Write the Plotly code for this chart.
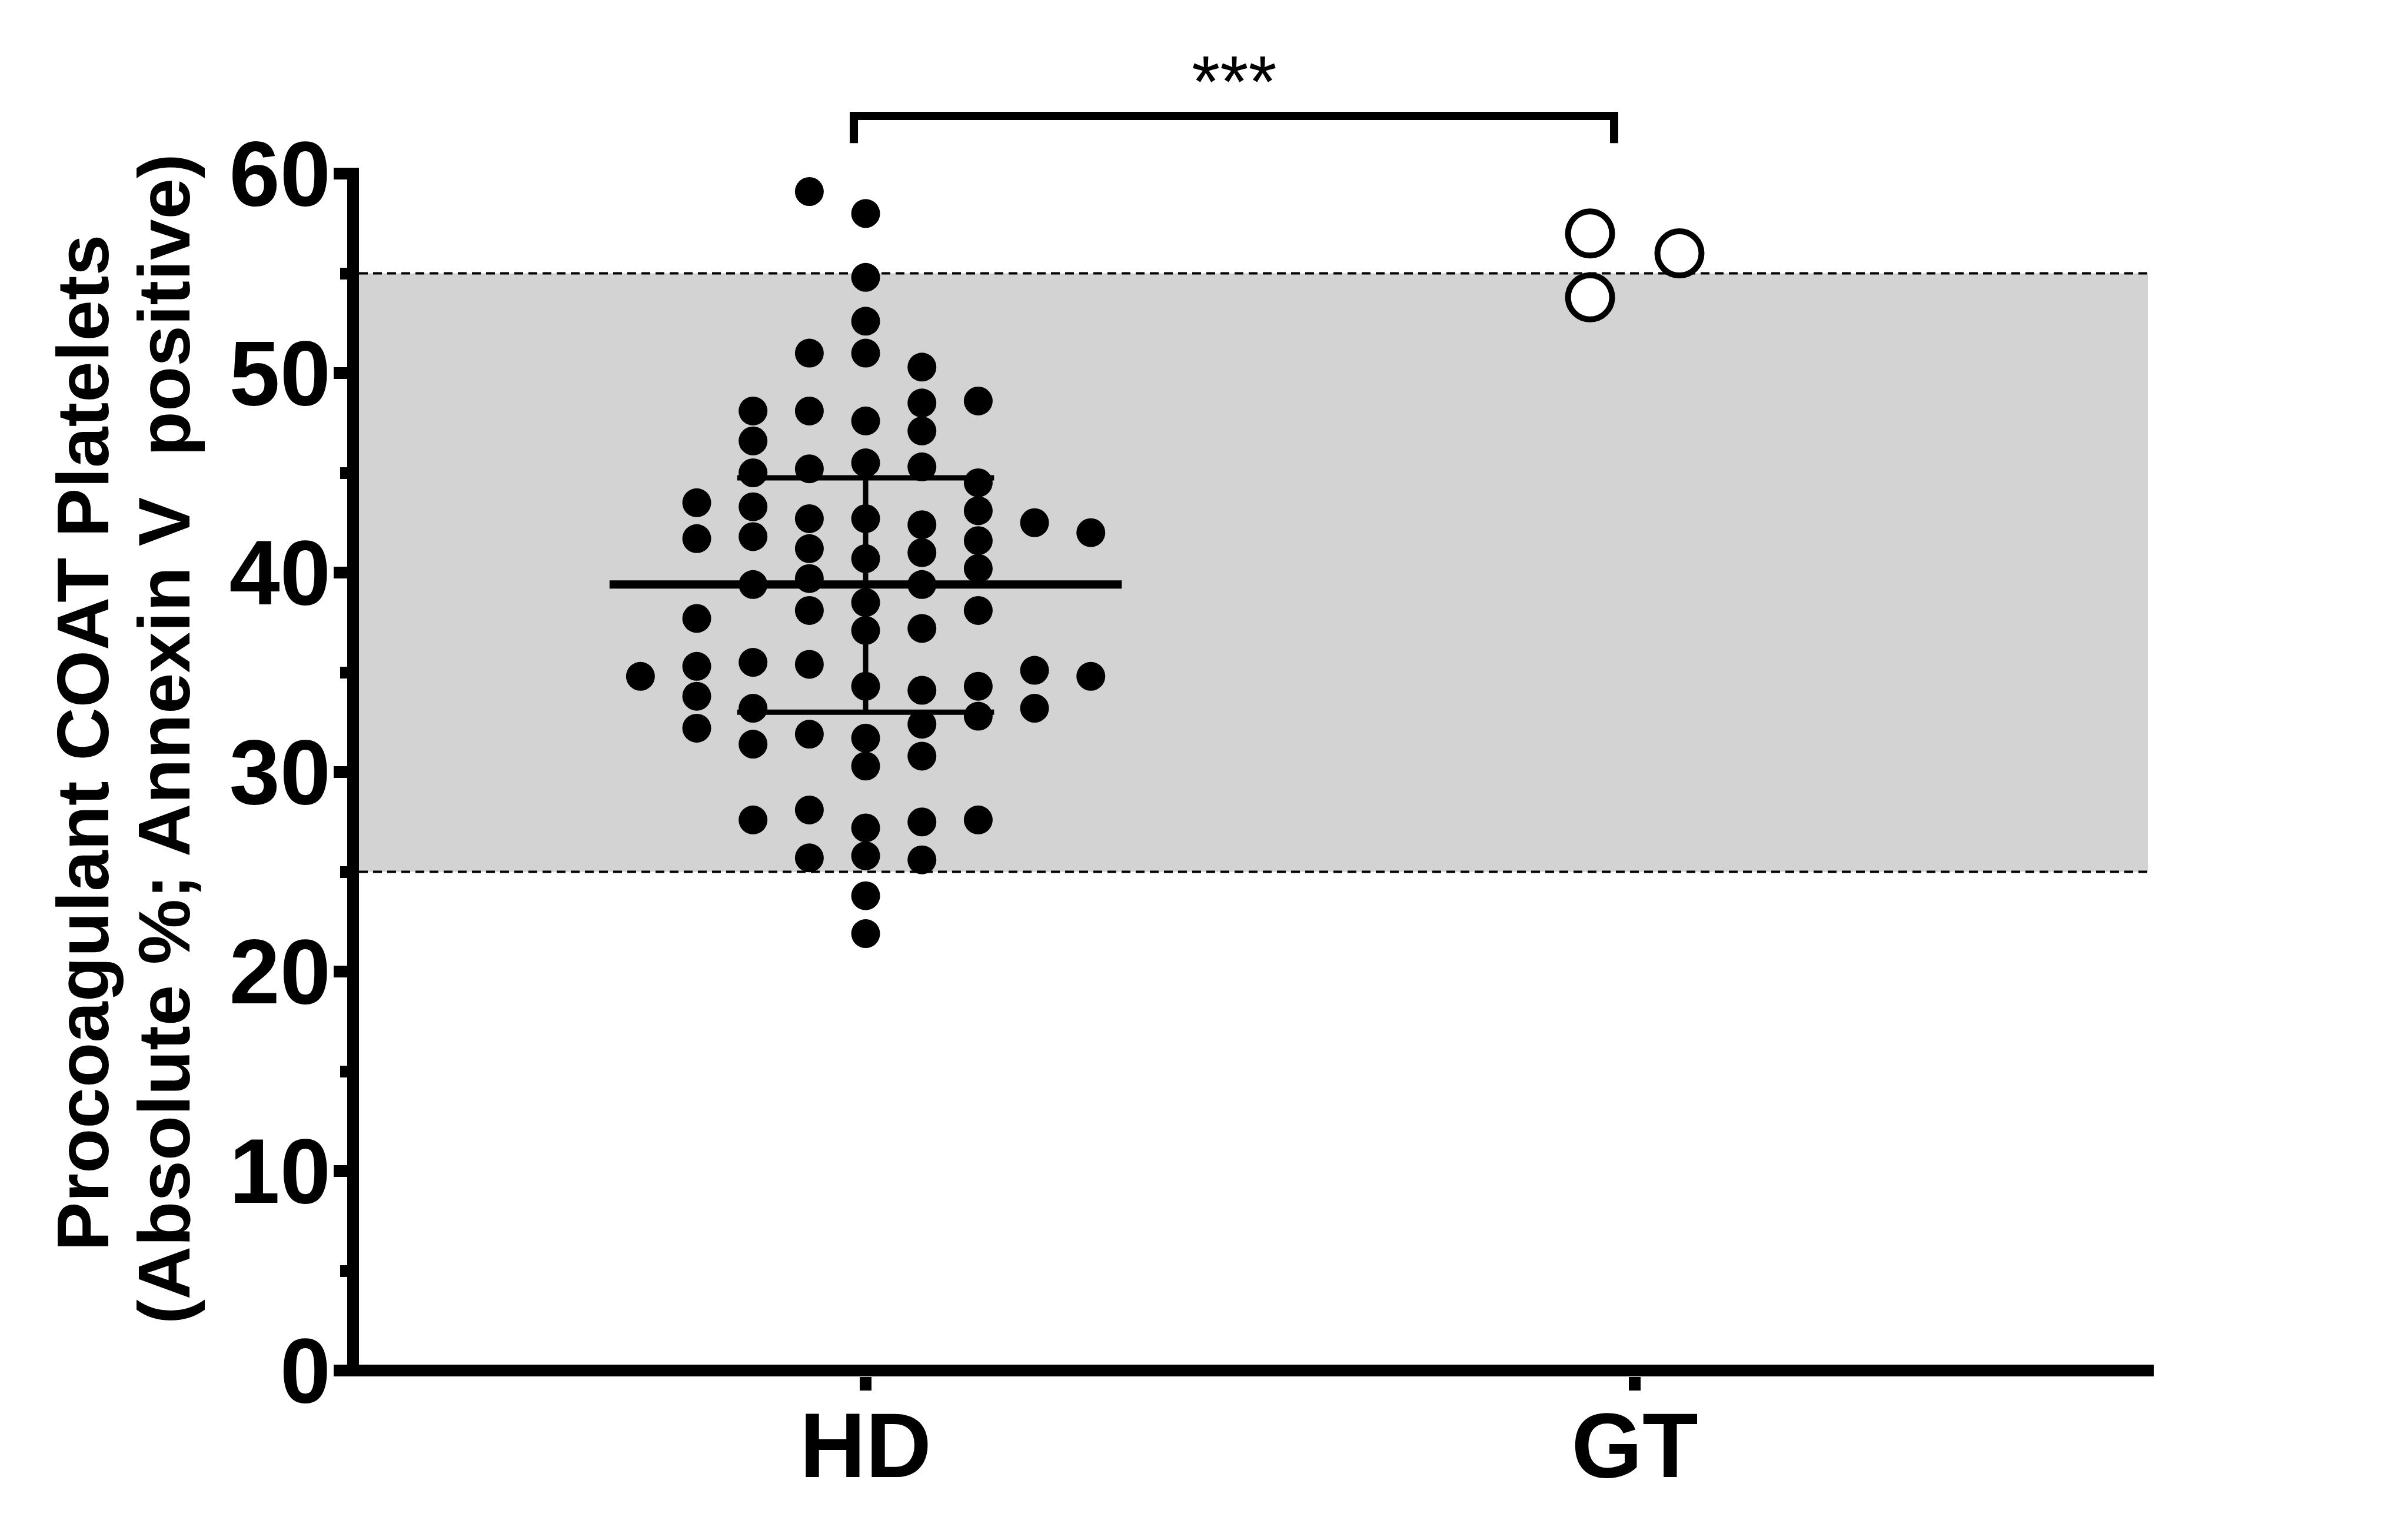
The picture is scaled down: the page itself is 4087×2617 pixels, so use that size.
import plotly.graph_objects as go

# ---------------- data ----------------
categories = ["HD", "GT"]

hd_values = [59.1, 58.0, 54.8, 52.6, 51.0, 51.0, 50.3, 48.1, 48.1, 47.6,
             48.5, 48.6, 47.1, 46.6, 45.0, 45.2, 45.5, 45.3, 44.5, 43.5,
             43.3, 42.7, 42.7, 42.4, 43.1, 42.5, 42.0, 41.7, 41.8, 41.2,
             40.7, 41.0, 41.6, 40.2, 39.4, 39.7, 39.4, 38.5, 37.7, 38.1,
             38.1, 37.1, 37.2, 34.8, 35.3, 35.5, 35.4, 34.3, 34.1, 34.3,
             35.1, 34.8, 33.8, 33.2, 33.2, 32.8, 32.4, 32.2, 31.9, 31.7,
             31.4, 30.8, 30.3, 28.1, 27.6, 27.6, 27.5, 27.2, 25.7, 25.8,
             25.6, 23.8, 21.9]
hd_columns = [-1, 0, 0, 0, -1, 0, 1, -2, -1, 0,
              1, 2, 1, -2, -2, -1, 0, 1, 2, -3,
              -2, -1, 0, 1, 2, 3, 4, -3, -2, -1,
              0, 1, 2, 2, -2, -1, 1, 0, -3, -1,
              2, 0, 1, -4, -3, -2, -1, 0, 1, 2,
              3, 4, -3, -2, 3, 2, 1, -3, -1, 0,
              -2, 1, 0, -1, -2, 2, 1, 0, -1, 0,
              1, 0, 0]

gt_values = [57.0, 53.8, 56.0]
gt_columns = [-1, -1, 1]

hd_center = 39.4
hd_lower = 33.0
hd_upper = 44.75

normal_low = 25
normal_high = 55

y_ticks = [0, 10, 20, 30, 40, 50, 60]
significance = "***"
y_title_line1 = "Procoagulant COAT Platelets"
y_title_line2 = "(Absolute %; Annexin V\u00a0\u00a0positive)"

# ---------------- geometry / style ----------------
W, H = 4087, 2617
PL, PR, PT, PB = 610, 3660, 285, 2339          # plot-area pixel edges
x_range = [-0.6588, 1.6748]
y_range = [-0.295, 60.295]
hd_step = 0.0732
gt_step = 0.0581
FONT = "Liberation Sans, Arial, sans-serif"


def px_x(v):
    return (v - x_range[0]) / (x_range[1] - x_range[0])


def px_y(v):
    return (v - y_range[0]) / (y_range[1] - y_range[0])


def paper_from_pixel_x(p):
    return (p - PL) / (PR - PL)


def paper_from_pixel_y(p):
    return (PB - p) / (PB - PT)


hd_x = [0 + c * hd_step for c in hd_columns]
gt_x = [1 + c * gt_step for c in gt_columns]

fig = go.Figure()

fig.add_trace(go.Scatter(
    x=hd_x, y=hd_values, mode="markers",
    marker=dict(symbol="circle", size=49, color="black", line=dict(width=0)),
    cliponaxis=False, showlegend=False, hoverinfo="y"))

fig.add_trace(go.Scatter(
    x=gt_x, y=gt_values, mode="markers",
    marker=dict(symbol="circle", size=75, color="white",
                line=dict(width=10, color="black")),
    cliponaxis=False, showlegend=False, hoverinfo="y"))

# centre line
fig.add_trace(go.Scatter(
    x=[-0.333, 0.333], y=[hd_center, hd_center], mode="lines",
    line=dict(color="black", width=14), showlegend=False, hoverinfo="skip"))
# error bar (vertical + caps)
fig.add_trace(go.Scatter(
    x=[0, 0, None, -0.167, 0.167, None, -0.167, 0.167],
    y=[hd_lower, hd_upper, None, hd_upper, hd_upper, None, hd_lower, hd_lower],
    mode="lines", line=dict(color="black", width=9),
    showlegend=False, hoverinfo="skip"))

band_x1 = paper_from_pixel_x(3650)
shapes = [
    dict(type="rect", xref="paper", yref="y", x0=0, x1=band_x1,
         y0=normal_low, y1=normal_high, fillcolor="#d3d3d3",
         line=dict(width=0), layer="below"),
    dict(type="line", xref="paper", yref="y", x0=0, x1=band_x1,
         y0=normal_low, y1=normal_low,
         line=dict(color="black", width=4, dash="15px,9px"), layer="below"),
    dict(type="line", xref="paper", yref="y", x0=0, x1=band_x1,
         y0=normal_high, y1=normal_high,
         line=dict(color="black", width=4, dash="15px,9px"), layer="below"),
]

# significance bracket (data units -> paper)
br_x0, br_x1 = 0 - 0.0153, 1 - 0.0268
br_top, br_leg = 62.89, 61.53
path = "M {a},{d} L {a},{c} L {b},{c} L {b},{d}".format(
    a=px_x(br_x0), b=px_x(br_x1), c=px_y(br_top), d=px_y(br_leg))
shapes.append(dict(type="path", xref="paper", yref="paper", path=path,
                   line=dict(color="black", width=14), layer="above"))

annotations = [
    dict(text=significance, xref="paper", yref="paper",
         x=px_x((br_x0 + br_x1) / 2), y=px_y(64.6),
         xanchor="center", yanchor="middle", showarrow=False,
         font=dict(family=FONT, size=124, color="black")),
    dict(text=y_title_line1, xref="paper", yref="paper",
         x=paper_from_pixel_x(140), y=paper_from_pixel_y(1263),
         xanchor="center", yanchor="middle", textangle=-90, showarrow=False,
         font=dict(family=FONT, size=125, color="black", weight="bold")),
    dict(text=y_title_line2, xref="paper", yref="paper",
         x=paper_from_pixel_x(278), y=paper_from_pixel_y(1256),
         xanchor="center", yanchor="middle", textangle=-90, showarrow=False,
         font=dict(family=FONT, size=125, color="black", weight="bold")),
]

fig.update_layout(
    width=W, height=H,
    margin=dict(l=PL, r=W - PR, t=PT, b=H - PB, pad=0),
    paper_bgcolor="white", plot_bgcolor="white",
    shapes=shapes, annotations=annotations,
    showlegend=False,
    xaxis=dict(range=x_range, tickmode="array", tickvals=[0, 1],
               ticktext=categories, showgrid=False, zeroline=False,
               showline=False, ticks="outside", ticklen=23, tickwidth=20,
               tickcolor="black", ticklabelstandoff=-39,
               tickfont=dict(family=FONT, size=155, color="black", weight="bold")),
    yaxis=dict(range=y_range, tickmode="array", tickvals=y_ticks,
               showgrid=False, zeroline=True, zerolinewidth=20,
               zerolinecolor="black", showline=True, linewidth=20,
               linecolor="black", ticks="outside", ticklen=23, tickwidth=20,
               tickcolor="black", ticklabelstandoff=-26,
               minor=dict(dtick=5, tick0=0, ticks="outside", ticklen=12,
                          tickwidth=20, tickcolor="black", showgrid=False),
               tickfont=dict(family=FONT, size=155, color="black", weight="bold")),
)

fig.write_html("out.html", config={"displayModeBar": False},
               post_script="document.body.style.margin='0';document.body.style.padding='0';")
